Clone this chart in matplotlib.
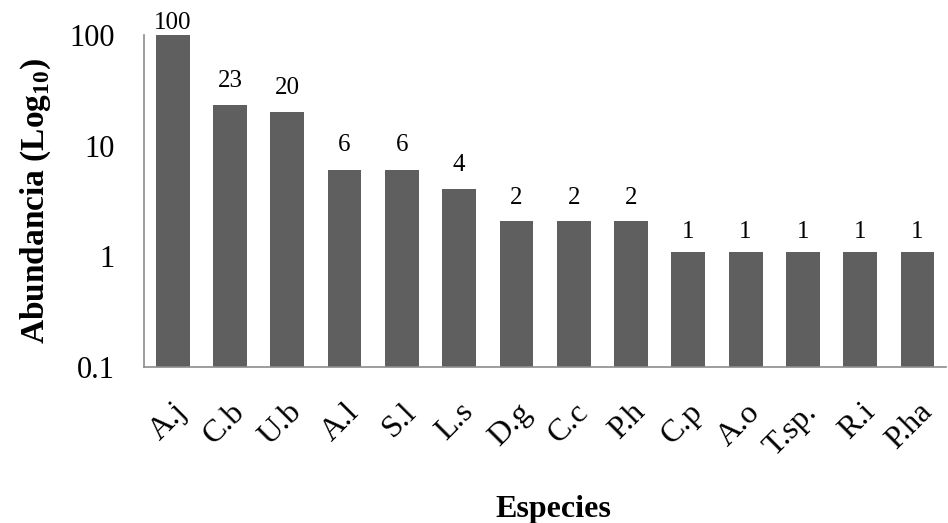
import matplotlib
matplotlib.use('Agg')
import matplotlib.pyplot as plt

plt.rcParams['font.family'] = ['Liberation Serif', 'DejaVu Serif']
plt.rcParams['mathtext.fontset'] = 'custom'
plt.rcParams['mathtext.rm'] = 'Liberation Serif'
plt.rcParams['mathtext.bf'] = 'Liberation Serif:bold'

especies = ['A.j', 'C.b', 'U.b', 'A.l', 'S.l', 'L.s', 'D.g', 'C.c', 'P.h',
            'C.p', 'A.o', 'T.sp.', 'R.i', 'P.ha']
abundancia = [100, 23, 20, 6, 6, 4, 2, 2, 2, 1, 1, 1, 1, 1]
yticks = [0.1, 1, 10, 100]
ytick_labels = ['0.1', '1', '10', '100']

fig = plt.figure(figsize=(9.48, 5.23), dpi=100)
ax = fig.add_axes([0.152, 0.298, 0.846, 0.635])

x = range(len(especies))
bars = ax.bar(x, abundancia, width=0.59, bottom=0.1, color='#5f5f5f')
ax.set_yscale('log')
ax.set_ylim(0.1, 100)
ax.set_xlim(-0.5, len(especies) - 0.5)

ax.set_yticks(yticks)
ax.set_yticklabels(ytick_labels, fontsize=22)
ax.yaxis.set_minor_locator(matplotlib.ticker.NullLocator())
ax.set_xticks(list(x))
ax.set_xticklabels(especies, fontsize=23, rotation=45, ha='right',
                   rotation_mode='anchor')
ax.tick_params(axis='both', length=0)
ax.tick_params(axis='x', pad=22)
ax.tick_params(axis='y', pad=21)

for s in ['top', 'right']:
    ax.spines[s].set_visible(False)
for s in ['left', 'bottom']:
    ax.spines[s].set_color('#8c8c8c')
    ax.spines[s].set_linewidth(1.2)

# etiquetas de valor sobre cada barra
for i, v in enumerate(abundancia):
    off = 1 if v >= 100 else 10
    ax.annotate(str(v), (i, v), xytext=(0, off), textcoords='offset points',
                ha='center', va='bottom', fontsize=18, annotation_clip=False)

ax.set_ylabel(r'Abundancia (Log$_{\mathbf{10}}$)', fontsize=24,
              fontweight='bold', labelpad=12)
ax.set_xlabel('Especies', fontsize=23, fontweight='bold', labelpad=24)
ax.xaxis.label.set_x(0.51)

fig.savefig('out.png', dpi=100)
